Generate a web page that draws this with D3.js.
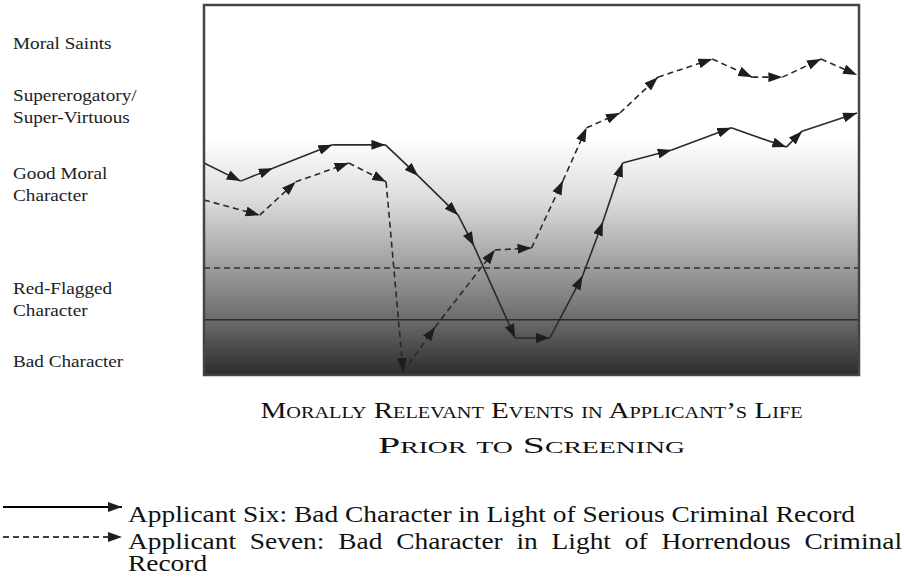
<!DOCTYPE html>
<html lang="en">
<head>
    <meta charset="UTF-8">
    <title>Moral character chart</title>
    <style>
        body { margin: 0; background: #fff; }
        .lvl { font-family: "Liberation Serif", serif; font-size: 16px; fill: #222; }
        .ttl { font-family: "Liberation Serif", serif; font-size: 23px; font-variant: small-caps; fill: #111; }
        .leg { font-family: "Liberation Serif", serif; font-size: 24px; fill: #111; }
    </style>
</head>
<body>
<script src="https://cdn.jsdelivr.net/npm/d3@7"></script>
<script>
    // event position (0-100 along the life line) and character score (0 bad - 100 saint)
    var sixX   = [0, 5.6, 10.5, 19.6, 27.7, 32.7, 38.8, 41.2, 47.5, 52.8, 57.8, 60.9, 63.9, 71.4, 80.5, 88.9, 91.3, 99.7];
    var sixY   = [57.3, 52.4, 55.9, 62.2, 62.2, 53.8, 43.2, 34.9, 10.0, 10.0, 26.8, 41.4, 57.3, 60.8, 66.8, 61.6, 65.9, 70.8];
    var sevenX = [0, 8.5, 14.0, 22.1, 27.8, 30.4, 35.3, 44.4, 50.0, 54.8, 58.4, 63.5, 69.3, 77.6, 83.7, 88.3, 94.2, 99.7];
    var sevenY = [47.3, 43.2, 52.2, 57.3, 52.2, 0.8, 13.0, 33.8, 34.3, 52.5, 66.8, 70.8, 80.5, 85.4, 80.5, 80.5, 85.4, 81.1];

    // thresholds: dashed = red flag line, solid = bad character line
    var redFlagLevel = 28.9;
    var badLevel = 14.9;

    var levelLabels = [
        ["Moral Saints"],
        ["Supererogatory/", "Super-Virtuous"],
        ["Good Moral", "Character"],
        ["Red-Flagged", "Character"],
        ["Bad Character"]
    ];
    var levelValues = [89.5, 72.4, 51.4, 20.3, 3.5];

    var titleLines = ["Morally Relevant Events in Applicant\u2019s Life", "Prior to Screening"];
    var legendNames = [
        "Applicant Six: Bad Character in Light of Serious Criminal Record",
        "Applicant Seven: Bad Character in Light of Horrendous Criminal",
        "Record"
    ];

    var width = 904, height = 577;
    var pL = 204, pR = 859, pT = 5, pB = 375;

    var svg = d3.select("body").append("svg")
        .attr("width", width)
        .attr("height", height);

    var x = d3.scaleLinear().domain([0, 100]).range([pL, pR]);
    var y = d3.scaleLinear().domain([0, 100]).range([pB, pT]);

    var defs = svg.append("defs");
    var grad = defs.append("linearGradient")
        .attr("id", "bg")
        .attr("gradientUnits", "userSpaceOnUse")
        .attr("x1", 0).attr("y1", pT).attr("x2", 0).attr("y2", pB);
    [[5, "#ffffff"], [138, "#ffffff"], [200, "#dcdcdc"], [268, "#9d9d9d"], [320, "#6b6b6b"], [375, "#2c2c2c"]]
        .forEach(function (s) {
            grad.append("stop")
                .attr("offset", (s[0] - pT) / (pB - pT))
                .attr("stop-color", s[1]);
        });

    defs.append("marker")
        .attr("id", "arrow")
        .attr("markerUnits", "userSpaceOnUse")
        .attr("viewBox", "0 0 14 10")
        .attr("refX", 14).attr("refY", 5)
        .attr("markerWidth", 14).attr("markerHeight", 10)
        .attr("orient", "auto")
        .append("path")
        .attr("d", "M0,0 L14,5 L0,10 Z")
        .attr("fill", "#1e1e1e");

    /* background */
    svg.append("rect")
        .attr("x", pL).attr("y", pT)
        .attr("width", pR - pL).attr("height", pB - pT)
        .attr("fill", "url(#bg)");

    /* threshold lines */
    svg.append("line")
        .attr("x1", x(0)).attr("x2", x(100))
        .attr("y1", y(redFlagLevel)).attr("y2", y(redFlagLevel))
        .attr("stroke", "#333").attr("stroke-width", 1.5)
        .attr("stroke-dasharray", "6,4");
    svg.append("line")
        .attr("x1", x(0)).attr("x2", x(100))
        .attr("y1", y(badLevel)).attr("y2", y(badLevel))
        .attr("stroke", "#2a2a2a").attr("stroke-width", 1.5);

    /* applicant paths, one segment per event with arrow */
    function drawPath(xs, ys, dash) {
        var segs = d3.range(xs.length - 1);
        svg.append("g").selectAll("line")
            .data(segs)
            .enter()
            .append("line")
            .attr("x1", function (i) { return x(xs[i]); })
            .attr("y1", function (i) { return y(ys[i]); })
            .attr("x2", function (i) { return x(xs[i + 1]); })
            .attr("y2", function (i) { return y(ys[i + 1]); })
            .attr("stroke", "#2a2a2a")
            .attr("stroke-width", 1.6)
            .attr("stroke-dasharray", dash)
            .attr("marker-end", "url(#arrow)");
    }
    drawPath(sixX, sixY, null);
    drawPath(sevenX, sevenY, "6,4");

    /* frame */
    svg.append("rect")
        .attr("x", pL).attr("y", pT)
        .attr("width", pR - pL).attr("height", pB - pT)
        .attr("fill", "none")
        .attr("stroke", "#444")
        .attr("stroke-width", 2.5);

    /* level labels (wide schoolbook look: stretch Times horizontally) */
    levelLabels.forEach(function (lines, i) {
        var g = svg.append("g")
            .attr("transform", "translate(13," + (y(levelValues[i]) - (lines.length - 1) * 11 + 5) + ") scale(1.2,1)");
        var t = g.append("text").attr("class", "lvl").attr("x", 0).attr("y", 0);
        lines.forEach(function (ln, j) {
            t.append("tspan").attr("x", 0).attr("dy", j ? 22 : 0).text(ln);
        });
    });

    /* x title */
    var titleY = [418, 453], titleW = [542, 307];
    titleLines.forEach(function (ln, i) {
        svg.append("text")
            .attr("class", "ttl")
            .attr("x", (pL + pR) / 2)
            .attr("y", titleY[i])
            .attr("text-anchor", "middle")
            .attr("textLength", titleW[i])
            .attr("lengthAdjust", "spacingAndGlyphs")
            .text(ln);
    });

    /* legend */
    var legY = [507, 537];
    svg.append("line")
        .attr("x1", 3).attr("x2", 122).attr("y1", legY[0]).attr("y2", legY[0])
        .attr("stroke", "#000").attr("stroke-width", 2)
        .attr("marker-end", "url(#arrow)");
    svg.append("line")
        .attr("x1", 3).attr("x2", 122).attr("y1", legY[1]).attr("y2", legY[1])
        .attr("stroke", "#000").attr("stroke-width", 1.3)
        .attr("stroke-dasharray", "6,4")
        .attr("marker-end", "url(#arrow)");

    var textX = 128;
    var l1 = svg.append("text").attr("class", "leg")
        .attr("x", textX).attr("y", 522).text(legendNames[0]);
    var k = 727 / l1.node().getComputedTextLength();
    l1.attr("textLength", 727).attr("lengthAdjust", "spacingAndGlyphs");

    // second line is justified to the right edge: widen the word gaps
    var g2 = svg.append("g").attr("transform", "translate(" + textX + ",549) scale(" + k + ",1)");
    var l2 = g2.append("text").attr("class", "leg").attr("x", 0).attr("y", 0).text(legendNames[1]);
    var gaps = legendNames[1].split(" ").length - 1;
    var extra = ((width - 2 - textX) / k - l2.node().getComputedTextLength()) / gaps;
    l2.attr("word-spacing", extra);

    svg.append("g").attr("transform", "translate(" + textX + ",571) scale(" + k + ",1)")
        .append("text").attr("class", "leg").attr("x", 0).attr("y", 0).text(legendNames[2]);
</script>
</body>
</html>
